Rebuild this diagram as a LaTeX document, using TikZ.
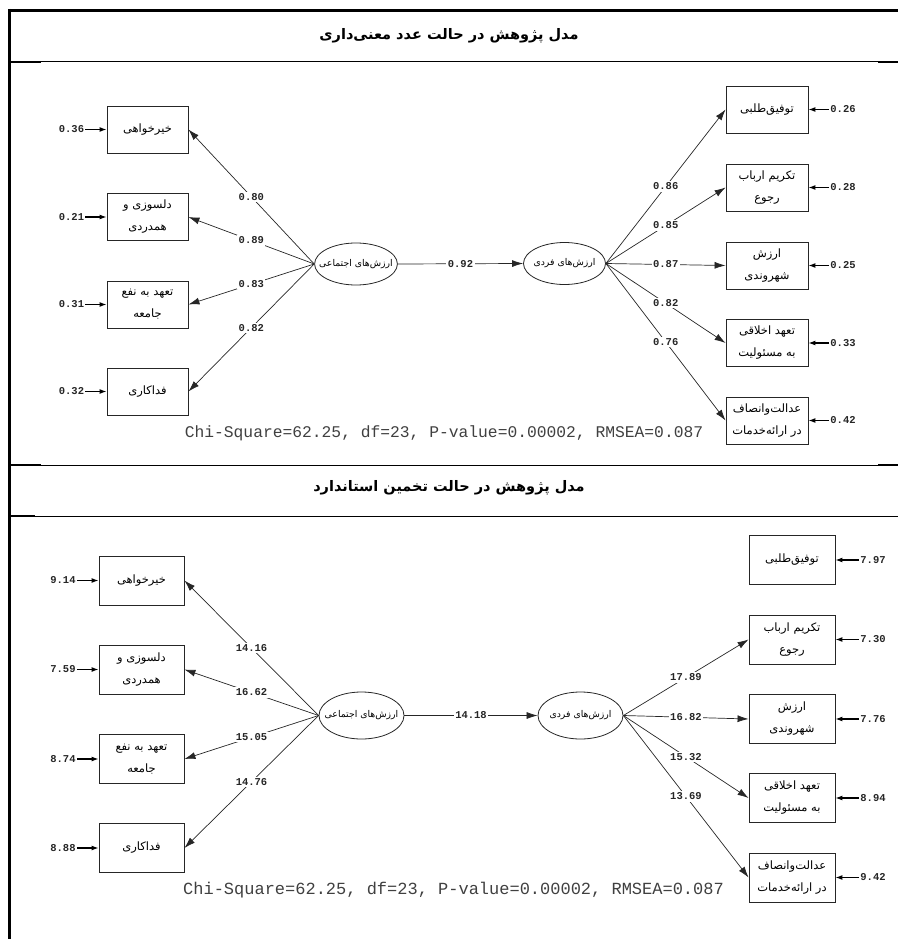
\documentclass[tikz,border=0pt]{standalone}
\usepackage{fontspec}
\usetikzlibrary{shapes.geometric,arrows.meta}
\TeXXeTstate=1
\newfontfamily\ar[Script=Arabic]{DejaVu Sans}
\newfontfamily\mono{Liberation Mono}
\newcommand{\rl}[1]{\beginR #1\endR}
\tikzset{
  obs/.style={draw=black!85, line width=0.9pt, minimum width=81pt, minimum height=47pt, inner sep=1pt, align=center, font=\ar\fontsize{11.5}{22}\selectfont},
  lat/.style={draw=black!85, line width=0.8pt, ellipse, minimum width=82pt, minimum height=42pt, inner xsep=-7.5pt, inner ysep=0pt, font=\ar\fontsize{9.3}{11}\selectfont},
  err/.style={font=\mono\bfseries\fontsize{10.5}{12}\selectfont, text=black!85, inner sep=1pt},
  coef/.style={font=\mono\bfseries\fontsize{10.5}{12}\selectfont, text=black!85, fill=white, inner sep=1.5pt},
  link/.style={draw=black!85, line width=0.7pt, -{Latex[length=11pt,width=7pt]}},
  elink/.style={draw=black, line width=1.1pt, -{Latex[length=7pt,width=5pt]}},
  ttl/.style={font=\ar\bfseries\fontsize{14.5}{18}\selectfont, inner sep=0pt},
  chi/.style={font=\mono\fontsize{16.3}{18}\selectfont, text=black!75, inner sep=0pt},
  frame/.style={line width=3pt},
  rule/.style={line width=1pt},
  rulethick/.style={line width=2.5pt}
}
\begin{document}
\begin{tikzpicture}[x=1pt,y=-1pt]
\useasboundingbox (0,0) rectangle (898,939);
% frame
\draw[frame] (8,10.5) -- (898,10.5);
\draw[frame] (9.5,9) -- (9.5,939);
\draw[rule] (9,62) -- (898,62);
\draw[rulethick] (10,62) -- (41,62);
\draw[rulethick] (878,62) -- (898,62);
\draw[rule] (9,465) -- (898,465);
\draw[rulethick] (10,465) -- (41,465);
\draw[rulethick] (878,465) -- (898,465);
\draw[rule] (9,516) -- (898,516);
\draw[rulethick] (10,516) -- (35,516);
% titles
\node[ttl] (T1) at (449,36) {\rl{مدل پژوهش در حالت عدد معنی‌داری}};
\node[ttl] (T2) at (449,488) {\rl{مدل پژوهش در حالت تخمین استاندارد}};

% ===== top diagram =====
\node[obs] (L1a) at (147.5,129.5) {\rl{خیرخواهی}};
\node[obs] (L1b) at (147.5,217) {\rl{دلسوزی و}\\\rl{همدردی}};
\node[obs] (L1c) at (147.5,304.5) {\rl{تعهد به نفع}\\\rl{جامعه}};
\node[obs] (L1d) at (147.5,391.5) {\rl{فداکاری}};
\node[err] (E1a) at (71.5,129.5) {0.36};
\node[err] (E1b) at (71.5,217) {0.21};
\node[err] (E1c) at (71.5,304.5) {0.31};
\node[err] (E1d) at (71.5,391.5) {0.32};
\foreach \n in {a,b,c,d} \draw[elink] (E1\n.east) -- (L1\n.west);

\node[lat] (A1) at (356,264) {\rl{ارزش‌های اجتماعی}};
\node[lat] (B1) at (564.5,263.5) {\rl{ارزش‌های فردی}};

\node[obs, minimum width=82pt] (R1a) at (767,109.5) {\rl{توفیق‌طلبی}};
\node[obs, minimum width=82pt] (R1b) at (767,187.5) {\rl{تکریم ارباب}\\\rl{رجوع}};
\node[obs, minimum width=82pt] (R1c) at (767,265.5) {\rl{ارزش}\\\rl{شهروندی}};
\node[obs, minimum width=82pt] (R1d) at (767,343) {\rl{تعهد اخلاقی}\\\rl{به مسئولیت}};
\node[obs, minimum width=82pt] (R1e) at (767,420.5) {\rl{عدالت‌وانصاف}\\\rl{در ارائه‌خدمات}};
\node[err] (F1a) at (843,109.5) {0.26};
\node[err] (F1b) at (843,187.5) {0.28};
\node[err] (F1c) at (843,265.5) {0.25};
\node[err] (F1d) at (843,343) {0.33};
\node[err] (F1e) at (843,420.5) {0.42};
\foreach \n in {a,b,c,d,e} \draw[elink] (F1\n.west) -- (R1\n.east);

\draw[link] (A1.west) -- node[coef]{0.80} (L1a.east);
\draw[link] (A1.west) -- node[coef]{0.89} (L1b.east);
\draw[link] (A1.west) -- node[coef]{0.83} (L1c.east);
\draw[link] (A1.west) -- node[coef]{0.82} (L1d.east);
\draw[link] (A1.east) -- node[coef]{0.92} (B1.west);
\draw[link] (B1.east) -- node[coef]{0.86} (R1a.west);
\draw[link] (B1.east) -- node[coef]{0.85} (R1b.west);
\draw[link] (B1.east) -- node[coef]{0.87} (R1c.west);
\draw[link] (B1.east) -- node[coef]{0.82} (R1d.west);
\draw[link] (B1.east) -- node[coef]{0.76} (R1e.west);

\node[chi] (C1) at (444,433) {Chi-Square=62.25, df=23, P-value=0.00002, RMSEA=0.087};

% ===== bottom diagram =====
\node[obs, minimum width=85pt, minimum height=49pt] (L2a) at (141.5,580.5) {\rl{خیرخواهی}};
\node[obs, minimum width=85pt, minimum height=49pt] (L2b) at (141.5,669.5) {\rl{دلسوزی و}\\\rl{همدردی}};
\node[obs, minimum width=85pt, minimum height=49pt] (L2c) at (141.5,759) {\rl{تعهد به نفع}\\\rl{جامعه}};
\node[obs, minimum width=85pt, minimum height=49pt] (L2d) at (141.5,848) {\rl{فداکاری}};
\node[err] (E2a) at (63,580.5) {9.14};
\node[err] (E2b) at (63,669.5) {7.59};
\node[err] (E2c) at (63,759) {8.74};
\node[err] (E2d) at (63,848) {8.88};
\foreach \n in {a,b,c,d} \draw[elink] (E2\n.east) -- (L2\n.west);

\node[lat, minimum width=85pt, minimum height=47pt] (A2) at (361.5,715.5) {\rl{ارزش‌های اجتماعی}};
\node[lat, minimum width=85pt, minimum height=47pt] (B2) at (580.5,715.5) {\rl{ارزش‌های فردی}};

\node[obs, minimum width=86pt, minimum height=49pt] (R2a) at (792,560) {\rl{توفیق‌طلبی}};
\node[obs, minimum width=86pt, minimum height=49pt] (R2b) at (792,639.5) {\rl{تکریم ارباب}\\\rl{رجوع}};
\node[obs, minimum width=86pt, minimum height=49pt] (R2c) at (792,719) {\rl{ارزش}\\\rl{شهروندی}};
\node[obs, minimum width=86pt, minimum height=49pt] (R2d) at (792,798) {\rl{تعهد اخلاقی}\\\rl{به مسئولیت}};
\node[obs, minimum width=86pt, minimum height=49pt] (R2e) at (792,877.5) {\rl{عدالت‌وانصاف}\\\rl{در ارائه‌خدمات}};
\node[err] (F2a) at (873,560) {7.97};
\node[err] (F2b) at (873,639.5) {7.30};
\node[err] (F2c) at (873,719) {7.76};
\node[err] (F2d) at (873,798) {8.94};
\node[err] (F2e) at (873,877.5) {9.42};
\foreach \n in {a,b,c,d,e} \draw[elink] (F2\n.west) -- (R2\n.east);

\draw[link] (A2.west) -- node[coef]{14.16} (L2a.east);
\draw[link] (A2.west) -- node[coef]{16.62} (L2b.east);
\draw[link] (A2.west) -- node[coef]{15.05} (L2c.east);
\draw[link] (A2.west) -- node[coef]{14.76} (L2d.east);
\draw[link] (A2.east) -- node[coef]{14.18} (B2.west);
\draw[link] (B2.east) -- node[coef]{17.89} (R2b.west);
\draw[link] (B2.east) -- node[coef]{16.82} (R2c.west);
\draw[link] (B2.east) -- node[coef]{15.32} (R2d.west);
\draw[link] (B2.east) -- node[coef]{13.69} (R2e.west);

\node[chi, font=\mono\fontsize{17}{19}\selectfont] (C2) at (453.5,890) {Chi-Square=62.25, df=23, P-value=0.00002, RMSEA=0.087};
\end{tikzpicture}
\end{document}
